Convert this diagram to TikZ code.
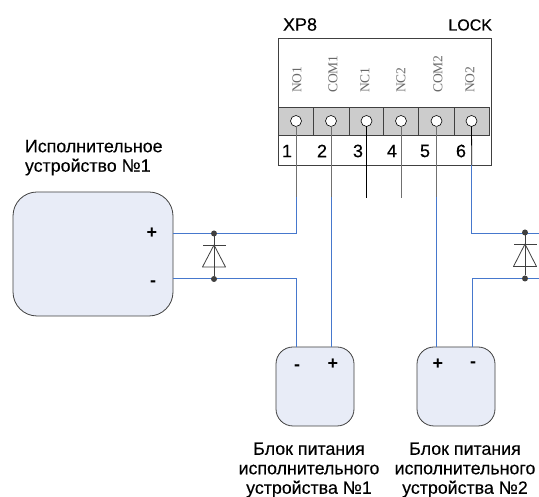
\documentclass[tikz,border=0pt]{standalone}
\usepackage{fontspec}
\setmainfont{Liberation Sans}
\newfontfamily\pinfont{Liberation Serif}
\newfontfamily\capfont[FakeBold=0.25]{Liberation Sans}
\definecolor{fillColor}{RGB}{232,236,247}
\definecolor{stripColor}{RGB}{204,204,204}
\definecolor{edgeColor}{RGB}{64,64,64}
\definecolor{blueColor}{RGB}{70,120,205}
\definecolor{grayColor}{RGB}{112,112,112}
\definecolor{pinColor}{RGB}{105,105,105}
\tikzset{
  device/.style={draw=edgeColor,fill=fillColor,line width=0.8pt,rounded corners=24pt,inner sep=0pt,outer sep=0pt,minimum width=160pt,minimum height=124pt},
  supply/.style={draw=edgeColor,fill=fillColor,line width=0.8pt,rounded corners=17pt,inner sep=0pt,outer sep=0pt,minimum width=78pt,minimum height=79pt},
  cell/.style={draw=edgeColor,fill=stripColor,line width=0.7pt,inner sep=0pt,outer sep=0pt,minimum height=28pt},
  pin/.style={circle,draw=black,fill=white,line width=0.6pt,inner sep=0pt,outer sep=0pt,minimum size=11pt},
  jdot/.style={circle,fill=edgeColor,inner sep=0pt,outer sep=0pt,minimum width=6pt,minimum height=6pt},
  pinlabel/.style={text=pinColor,rotate=90,anchor=west,inner sep=0pt,outer sep=0pt,font=\pinfont\fontsize{13.5}{13.5}\selectfont},
  number/.style={inner sep=0pt,outer sep=0pt,font=\capfont\fontsize{18}{18}\selectfont},
  sign/.style={inner sep=0pt,outer sep=0pt,font=\bfseries\fontsize{18}{18}\selectfont},
  caption/.style={inner sep=0pt,outer sep=0pt,align=center,font=\capfont\fontsize{17.8}{19.5}\selectfont},
  bluewire/.style={draw=blueColor,line width=1pt},
  graywire/.style={draw=grayColor,line width=1pt},
  blackwire/.style={draw=black,line width=0.8pt},
  diode/.style={draw=edgeColor,line width=0.8pt,line join=round}
}
\begin{document}
\begin{tikzpicture}[x=1pt,y=1pt]
\path[use as bounding box,fill=white] (0,0) rectangle (539,497);

% connector XP8
\node[draw=edgeColor,line width=0.8pt,inner sep=0pt,outer sep=0pt,minimum width=213pt,minimum height=127pt] (xp8) at (384.5,395.5) {};
\node[number,anchor=west] (xp8title) at (283,472.5) {XP8};
\node[inner sep=0pt,outer sep=0pt,anchor=east,font=\capfont\fontsize{16}{16}\selectfont] (locktitle) at (492,472) {LOCK};

\node[cell,minimum width=35pt] (cell1) at (295.5,376) {};
\node[cell,minimum width=36.5pt] (cell2) at (331.25,376) {};
\node[cell,minimum width=34pt] (cell3) at (366.5,376) {};
\node[cell,minimum width=35pt] (cell4) at (401,376) {};
\node[cell,minimum width=36pt] (cell5) at (436.5,376) {};
\node[cell,minimum width=35pt] (cell6) at (472,376) {};

\node[pin] (pin1) at (296,376) {};
\node[pin] (pin2) at (331,376) {};
\node[pin] (pin3) at (366.5,376) {};
\node[pin] (pin4) at (401,376) {};
\node[pin] (pin5) at (436.5,376) {};
\node[pin] (pin6) at (471.5,376) {};

\node[pinlabel] (label1) at (297,404) {NO1};
\node[pinlabel] (label2) at (333,404) {COM1};
\node[pinlabel] (label3) at (365,404) {NC1};
\node[pinlabel] (label4) at (401,404) {NC2};
\node[pinlabel] (label5) at (438,404) {COM2};
\node[pinlabel] (label6) at (470,404) {NO2};

\node[number] (num1) at (287,346) {1};
\node[number] (num2) at (322,346) {2};
\node[number] (num3) at (358,346) {3};
\node[number] (num4) at (392,346) {4};
\node[number] (num5) at (425,346) {5};
\node[number] (num6) at (461,346) {6};

% device and supplies
\node[device] (dev1) at (93,243) {};
\node[supply] (psu1) at (315,110.5) {};
\node[supply] (psu2) at (456,110.5) {};

\node[sign] (devplus) at (152,264) {+};
\node[sign] (devminus) at (153,213) {-};
\node[sign] (psu1minus) at (297,129) {-};
\node[sign] (psu1plus) at (333,133) {+};
\node[sign] (psu2plus) at (438,133) {+};
\node[sign] (psu2minus) at (473,132) {-};

\node[caption,anchor=north west,align=left] (devtext) at (25,357) {Исполнительное\\устройство №1};
\node[caption] (psu1text) at (309,27) {Блок питания\\исполнительного\\устройства №1};
\node[caption] (psu2text) at (465,27) {Блок питания\\исполнительного\\устройства №2};

\coordinate (end1) at (296,300);
\coordinate (end2) at (331,300);
\coordinate (end3) at (366.5,299);
\coordinate (end4) at (401,299);
\coordinate (end5) at (436.5,300);
\coordinate (end6) at (471.8,332);
\coordinate (dev1plus) at (173,263.8);
\coordinate (dev1minus) at (173,218);
\coordinate (edge1) at (539,263.8);
\coordinate (edge2) at (539,218);
\coordinate (psu1a) at (296,150);
\coordinate (psu1b) at (331,150);
\coordinate (psu2a) at (436.5,150);
\coordinate (psu2b) at (472,150);

% wires
\draw[graywire] (pin1.south) -- (end1);
\draw[graywire] (pin2.south) -- (end2);
\draw[blackwire] (pin3.south) -- (end3);
\draw[graywire] (pin4.south) -- (end4);
\draw[graywire] (pin5.south) -- (end5);
\draw[blackwire] (pin6.south) -- (end6);

\draw[bluewire] (dev1plus) -| (end1);
\draw[bluewire] (dev1minus) -| (psu1a);
\draw[bluewire] (end2) -- (psu1b);
\draw[bluewire] (end5) -- (psu2a);
\draw[bluewire] (end6) |- (edge1);
\draw[bluewire] (psu2b) |- (edge2);

% junctions and diodes
\node[jdot] (dot1) at (214,263.5) {};
\node[jdot] (dot2) at (214,218) {};
\node[jdot] (dot3) at (525,264.5) {};
\node[jdot] (dot4) at (525,218.5) {};

\draw[diode] (dot1) -- (dot2);
\draw[diode] (203,252) -- (226,252);
\draw[diode] (214,252) -- (202.5,230) -- (225.5,230) -- cycle;
\draw[diode] (dot3) -- (dot4);
\draw[diode] (514,253) -- (537,253);
\draw[diode] (525,253) -- (513.5,230.5) -- (536.5,230.5) -- cycle;
\end{tikzpicture}
\end{document}
